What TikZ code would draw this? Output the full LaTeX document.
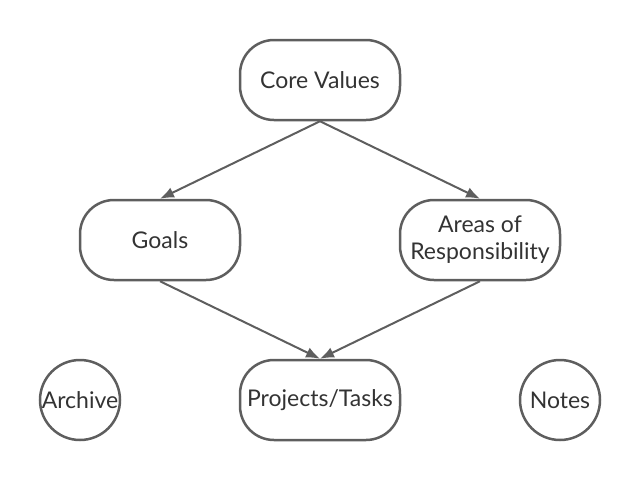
\documentclass[tikz,border=0pt]{standalone}
\usepackage{fontspec}
\setmainfont{Lato}
\usetikzlibrary{arrows.meta}
\definecolor{edgegray}{HTML}{5E5E5E}
\definecolor{textgray}{HTML}{333333}
\tikzset{
	roundbox/.style={draw=edgegray, line width=2.5pt, rounded corners=34pt,
		minimum width=160pt, minimum height=80pt, inner sep=0pt, align=center,
		text=textgray, font=\fontsize{23}{27}\selectfont},
	roundnode/.style={draw=edgegray, line width=2.5pt, circle,
		minimum size=80pt, inner sep=0pt,
		text=textgray, font=\fontsize{23}{27}\selectfont},
	link/.style={->, edgegray, line width=2pt}
}
\begin{document}
\begin{tikzpicture}[x=1pt, y=-1pt, >={Latex[length=14pt,width=11pt]}]
	\useasboundingbox (0, 0) rectangle (640, 480);

	\node[roundbox] (core) at (320, 80) {Core Values};
	\node[roundbox] (goals) at (160, 240) {Goals};
	\node[roundbox] (areas) at (480, 240) {Areas of\\Responsibility};
	\node[roundbox] (projects) at (320, 400) {Projects/Tasks};
	\node[roundnode] (archive) at (80, 400) {Archive};
	\node[roundnode] (notes) at (560, 400) {Notes};

	\draw[link] (core.south) -- (goals.north);
	\draw[link] (core.south) -- (areas.north);
	\draw[link] (goals.south) -- (projects.north);
	\draw[link] (areas.south) -- (projects.north);

\end{tikzpicture}
\end{document}
